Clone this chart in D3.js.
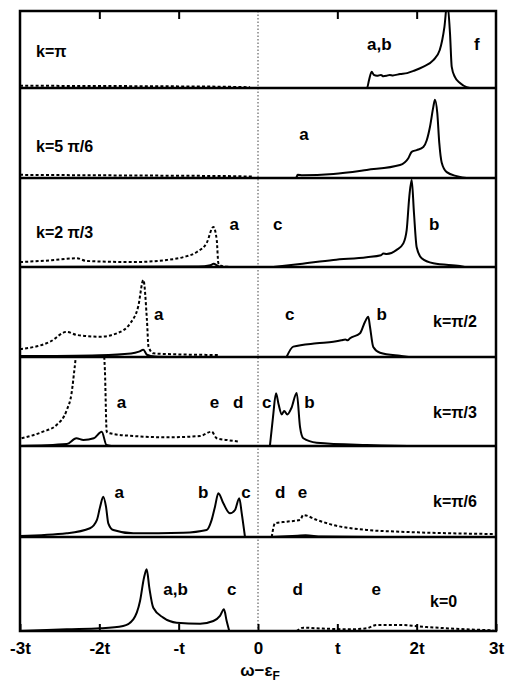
<!DOCTYPE html>
<html>
<head>
<meta charset="utf-8">
<script src="https://cdn.jsdelivr.net/npm/d3@7/dist/d3.min.js"></script>
<style>
  html, body { margin: 0; padding: 0; background: #fff; }
  svg { display: block; }
  text { font-family: "Liberation Sans", Arial, Helvetica, sans-serif; font-weight: bold; fill: #000; }
</style>
</head>
<body>
<svg id="chart" width="505" height="683"></svg>
<script>
// ---------- DATA ----------
const kLabels = ["k=\u03c0", "k=5 \u03c0/6", "k=2 \u03c0/3", "k=\u03c0/2", "k=\u03c0/3", "k=\u03c0/6", "k=0"];
const xTickValues = [-3, -2, -1, 0, 1, 2, 3];
const xTickLabels = ["-3t", "-2t", "-t", "0", "t", "2t", "3t"];

// solid curves [omega, intensity] per panel
const solid0 = [[1.30,0],[1.374,0],[1.40,0.9],[1.433,1.8],[1.46,1.45],[1.50,1.35],[1.55,1.45],[1.58,1.3],[1.62,1.35],[1.66,1.45],[1.70,1.4],[1.79,1.55],[1.88,1.65],[1.96,1.9],[2.08,2.35],[2.21,3.1],[2.29,4.2],[2.35,6.8],[2.386,9.5],[2.42,6.1],[2.442,2.35],[2.483,1.2],[2.546,0.55],[2.631,0.1],[2.71,0],[3,0]];
const solid1 = [[0.45,0],[0.48,0],[0.50,0.35],[0.56,0.3],[0.95,0.45],[1.37,0.9],[1.79,1.45],[1.895,2.2],[1.937,2.9],[2.0,3.1],[2.084,3.45],[2.127,4.2],[2.168,5.7],[2.21,7.9],[2.231,8.7],[2.26,7.2],[2.285,3.9],[2.316,1.7],[2.379,0.65],[2.505,0.2],[2.63,0],[3,0]];
const solid2a = [[-3,0],[-0.75,0.05],[-0.6,0.2],[-0.56,0.35],[-0.5,0.1],[-0.45,0]];
const solid2b = [[0.193,0],[0.53,0.33],[0.95,0.78],[1.37,1.08],[1.55,1.3],[1.58,1.5],[1.622,1.45],[1.748,1.9],[1.832,2.63],[1.874,4.1],[1.907,7.8],[1.937,9.7],[1.966,6.0],[2.0,2.2],[2.063,0.97],[2.21,0.41],[2.546,0.11],[2.63,0],[3,0]];
const solid3a = [[-3,0.1],[-2,0.2],[-1.6,0.4],[-1.5,0.6],[-1.445,0.8],[-1.40,0.25],[-1.3,0.05],[-1.1,0]];
const solid3b = [[0.36,0],[0.445,1.15],[0.74,1.52],[0.95,1.7],[1.05,1.85],[1.1,1.95],[1.13,1.85],[1.16,2.08],[1.286,2.63],[1.349,3.92],[1.39,4.48],[1.412,3.33],[1.453,1.11],[1.538,0.48],[1.79,0.14],[1.95,0],[3,0]];
const solid4a = [[-3,0],[-2.41,0.22],[-2.29,0.86],[-2.2,0.67],[-2.07,0.86],[-1.97,1.59],[-1.91,0.11],[-1.85,0]];
const solid4b = [[0.15,0],[0.19,3.3],[0.227,5.85],[0.26,4.6],[0.30,3.5],[0.33,3.9],[0.37,3.5],[0.42,4.2],[0.488,5.9],[0.53,2.1],[0.571,0.86],[0.74,0.37],[1.37,0.11],[2.04,0],[3,0]];
const solid5a = [[-3,0.11],[-2.41,0.41],[-2.118,0.97],[-2.03,1.9],[-1.99,3.37],[-1.95,4.48],[-1.916,3.37],[-1.887,1.52],[-1.824,0.78],[-1.572,0.41],[-0.94,0.48],[-0.647,0.78],[-0.584,1.9],[-0.542,3.37],[-0.50,4.86],[-0.437,3.74],[-0.353,2.63],[-0.29,3.0],[-0.236,4.3],[-0.205,2.63],[-0.164,0]];
const solid5b = [[0.17,0],[0.5,0.15],[0.6,0.2],[0.8,0.05],[1.5,0],[3,0]];
const solid6 = [[-3,0],[-2.41,0.19],[-1.99,0.3],[-1.70,0.56],[-1.572,1.3],[-1.487,3.33],[-1.437,5.92],[-1.403,6.86],[-1.37,4.81],[-1.32,2.59],[-1.194,1.48],[-1.025,0.92],[-0.73,0.81],[-0.563,1.11],[-0.479,1.67],[-0.429,2.41],[-0.395,1.11],[-0.362,0]];

// dashed curves per panel
const dash0 = [[-3,0.25],[-2,0.22],[-1,0.18],[-0.3,0.12],[-0.1,0.08]];
const dash1 = [[-3,0.35],[-2,0.3],[-1,0.25],[-0.3,0.2],[-0.05,0.15]];
const dash2 = [[-3,0.55],[-2.6,0.75],[-2.285,0.97],[-2.16,0.67],[-1.576,0.55],[-1.15,0.78],[-0.94,1.1],[-0.77,1.67],[-0.647,2.67],[-0.563,4.45],[-0.52,3.0],[-0.50,0.45],[-0.458,0.11],[-0.315,0]];
const dash3 = [[-3,0.86],[-2.62,1.7],[-2.41,2.8],[-2.285,2.45],[-1.99,2.25],[-1.78,2.63],[-1.61,3.75],[-1.51,5.6],[-1.445,8.55],[-1.40,4.1],[-1.38,1.15],[-1.32,0.41],[-1.15,0.33],[-0.48,0.22]];
const dash4 = [[-2.98,0.86],[-2.71,1.59],[-2.54,2.33],[-2.41,4.0],[-2.35,5.86],[-2.31,8.8],[-2.28,11],[-2.1,14],[-1.95,11],[-1.93,8.45],[-1.907,1.59],[-1.866,1.41],[-1.57,1.11],[-1.15,0.97],[-0.73,1.11],[-0.584,1.59],[-0.52,0.86],[-0.395,0.67],[-0.227,0.48]];
const dash5 = [[0.173,0],[0.214,1.52],[0.36,1.7],[0.53,1.9],[0.571,2.44],[0.74,1.9],[0.95,1.33],[1.37,0.78],[1.79,0.59],[2.966,0.33]];
const dash6 = [[0.488,0],[0.571,0.37],[0.74,0.3],[1.16,0.19],[1.37,0.3],[1.496,0.67],[1.79,0.67],[2.127,0.44],[2.631,0.19],[2.966,0.08]];

const solidSeries = [[solid0],[solid1],[solid2a,solid2b],[solid3a,solid3b],[solid4a,solid4b],[solid5a,solid5b],[solid6]];
const dashSeries = [[dash0],[dash1],[dash2],[dash3],[dash4],[dash5],[dash6]];

// peak letter labels: [omega position, text]
const peakLabels = [
  [[1.53,"a,b"],[2.76,"f"]],
  [[0.58,"a"]],
  [[-0.30,"a"],[0.25,"c"],[2.22,"b"]],
  [[-1.25,"a"],[0.40,"c"],[1.56,"b"]],
  [[-1.72,"a"],[-0.55,"e"],[-0.25,"d"],[0.11,"c"],[0.65,"b"]],
  [[-1.75,"a"],[-0.69,"b"],[-0.15,"c"],[0.28,"d"],[0.56,"e"]],
  [[-1.04,"a,b"],[-0.33,"c"],[0.50,"d"],[1.49,"e"]]
];

// ---------- LAYOUT ----------
const svg = d3.select("#chart");
const bounds = [11, 88, 178, 267, 357, 446, 537, 631];
const x = d3.scaleLinear().domain([-3, 3]).range([20, 496]);
const kLabelPos = [["start",36,57],["start",36,152],["start",36,238],["start",433,327],["start",433,418],["start",433,507],["start",430,607]];
const peakLabelY = [50, 140, 230, 320, 408, 498, 595];

const line = d3.line().x(d => x(d[0])).curve(d3.curveMonotoneX);

for (let i = 0; i < 7; i++) {
  const top = bounds[i], bottom = bounds[i + 1];
  const y = d3.scaleLinear().domain([0, 10]).range([bottom, bottom - 90]);
  line.y(d => y(d[1]));
  const cid = "clip" + i;
  svg.append("clipPath").attr("id", cid).append("rect")
    .attr("x", x(-3)).attr("y", top).attr("width", x(3) - x(-3)).attr("height", bottom - top);
  const g = svg.append("g").attr("clip-path", `url(#${cid})`);
  dashSeries[i].forEach(s => g.append("path").attr("d", line(s))
    .attr("fill", "none").attr("stroke", "#000").attr("stroke-width", 2)
    .attr("stroke-dasharray", "3,2.2"));
  solidSeries[i].forEach(s => g.append("path").attr("d", line(s))
    .attr("fill", "none").attr("stroke", "#000").attr("stroke-width", 2)
    .attr("stroke-linejoin", "round"));

  svg.append("text").attr("x", kLabelPos[i][1]).attr("y", kLabelPos[i][2])
    .attr("font-size", 16).attr("text-anchor", kLabelPos[i][0]).text(kLabels[i]);
  peakLabels[i].forEach(p => svg.append("text").attr("x", x(p[0])).attr("y", peakLabelY[i])
    .attr("font-size", 17).attr("text-anchor", "middle").text(p[1]));
}

// zero dotted line
svg.append("line").attr("x1", x(0)).attr("x2", x(0)).attr("y1", bounds[0]).attr("y2", bounds[7])
  .attr("stroke", "#444").attr("stroke-width", 1).attr("stroke-dasharray", "1.5,2");

// panel separators
for (let i = 1; i < 7; i++) {
  svg.append("line").attr("x1", x(-3)).attr("x2", x(3)).attr("y1", bounds[i]).attr("y2", bounds[i])
    .attr("stroke", "#000").attr("stroke-width", 2.5);
}
// outer frame
svg.append("rect").attr("x", x(-3)).attr("y", bounds[0]).attr("width", x(3) - x(-3))
  .attr("height", bounds[7] - bounds[0]).attr("fill", "none").attr("stroke", "#000").attr("stroke-width", 2.5);

// top ticks
const topAxis = d3.axisTop(x).tickValues([-2, -1, 1, 2]).tickSizeInner(-8).tickSizeOuter(0).tickFormat("");
svg.append("g").attr("transform", `translate(0,${bounds[0]})`).call(topAxis)
  .call(g => g.select(".domain").remove())
  .call(g => g.selectAll(".tick line").attr("stroke-width", 2));

// bottom axis
const bottomAxis = d3.axisBottom(x).tickValues(xTickValues).tickSizeInner(-7).tickSizeOuter(0)
  .tickPadding(11).tickFormat((d, i) => xTickLabels[i]);
svg.append("g").attr("transform", `translate(0,${bounds[7]})`).call(bottomAxis)
  .call(g => g.select(".domain").remove())
  .call(g => g.selectAll(".tick line").attr("stroke-width", 2))
  .call(g => g.selectAll(".tick text").attr("font-size", 17)
    .attr("font-family", "Liberation Sans, Arial, sans-serif").attr("font-weight", "bold").attr("fill", "#000"));

// x axis title
const title = svg.append("text").attr("x", x(0) + 2).attr("y", 676).attr("font-size", 17).attr("text-anchor", "middle");
title.append("tspan").text("\u03c9\u2212\u03b5");
title.append("tspan").attr("font-size", 12).attr("dy", 4).text("F");
</script>
</body>
</html>
